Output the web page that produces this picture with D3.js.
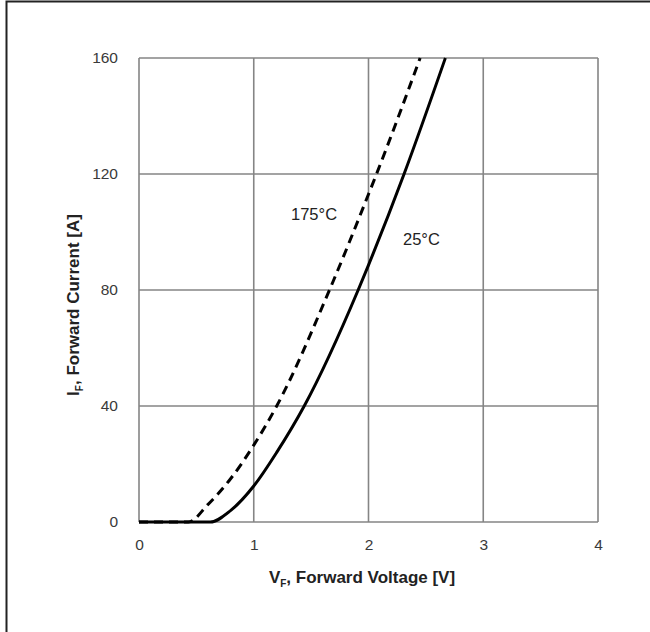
<!DOCTYPE html>
<html>
<head>
<meta charset="utf-8">
<script src="https://cdn.jsdelivr.net/npm/d3@7"></script>
<style>
  html, body { margin: 0; padding: 0; background: #fff; }
  svg { display: block; }
  text { font-family: "Liberation Sans", Arial, sans-serif; }
</style>
</head>
<body>
<script>
// Forward voltage (V) vs forward current (A) for two junction temperatures
const vf25  = [0, 0.62, 0.8, 1.0,  1.2, 1.44, 1.91, 2.0,  2.31, 2.67];
const if25  = [0, 0,    4,   12.4, 24,  40,   80,   88.6, 120,  160];
const vf175 = [0, 0.43, 0.6, 0.8, 1.0,  1.2, 1.66, 2.0, 2.07, 2.45];
const if175 = [0, 0,    6,   15,  26.5, 40,  80,   113, 120,  160];

const xTicks = [0, 1, 2, 3, 4];
const yTicks = [0, 40, 80, 120, 160];
const seriesLabels = ["175°C", "25°C"];

const W = 650, H = 632;
const svg = d3.select("body").append("svg").attr("width", W).attr("height", H);

// outer frame (left and top edges)
svg.append("path")
  .attr("d", "M6.5,640 L6.5,1.5 L660,1.5")
  .attr("fill", "none").attr("stroke", "#222").attr("stroke-width", 2);

const x = d3.scaleLinear().domain([0, 4]).range([139, 598]);
const y = d3.scaleLinear().domain([0, 160]).range([522, 58]);

const grid = svg.append("g").attr("stroke", "#858585").attr("stroke-width", 1.6);
grid.selectAll("line.v").data(xTicks).join("line")
  .attr("x1", d => x(d)).attr("x2", d => x(d))
  .attr("y1", y(0)).attr("y2", y(160));
grid.selectAll("line.h").data(yTicks).join("line")
  .attr("x1", x(0)).attr("x2", x(4))
  .attr("y1", d => y(d)).attr("y2", d => y(d));

// tick labels from d3 axis generators (domain and tick marks hidden)
const xAxis = svg.append("g").attr("transform", `translate(0,${y(0)})`)
  .call(d3.axisBottom(x).tickValues(xTicks).tickSize(0).tickPadding(17).tickFormat(d3.format("d")));
const yAxis = svg.append("g").attr("transform", `translate(${x(0)},0)`)
  .call(d3.axisLeft(y).tickValues(yTicks).tickSize(0).tickPadding(21).tickFormat(d3.format("d")));
[xAxis, yAxis].forEach(a => {
  a.select(".domain").remove();
  a.selectAll("text").attr("font-size", 15.5).attr("fill", "#3a3a3a")
    .attr("font-family", "'Liberation Sans', Arial, sans-serif");
});

const line = d3.line().x(d => x(d[0])).y(d => y(d[1])).curve(d3.curveMonotoneX);
const data25 = vf25.map((v, i) => [v, if25[i]]);
const data175 = vf175.map((v, i) => [v, if175[i]]);

svg.append("path").datum(data25).attr("d", line)
  .attr("fill", "none").attr("stroke", "#000").attr("stroke-width", 3);
svg.append("path").datum(data175).attr("d", line)
  .attr("fill", "none").attr("stroke", "#000").attr("stroke-width", 3)
  .attr("stroke-dasharray", "9,6");

// curve labels
svg.append("text").attr("x", 291).attr("y", 220)
  .attr("font-size", 16.5).attr("fill", "#222").text(seriesLabels[0]);
svg.append("text").attr("x", 403).attr("y", 245)
  .attr("font-size", 16.5).attr("fill", "#222").text(seriesLabels[1]);

// axis titles
const xt = svg.append("text").attr("x", 362).attr("y", 583)
  .attr("text-anchor", "middle").attr("font-size", 17).attr("font-weight", "bold").attr("fill", "#222");
xt.append("tspan").text("V");
xt.append("tspan").attr("font-size", 10).attr("dy", 4).text("F");
xt.append("tspan").attr("dy", -4).text(", Forward Voltage [V]");

const yt = svg.append("text")
  .attr("transform", `translate(79,305) rotate(-90)`)
  .attr("text-anchor", "middle").attr("font-size", 17).attr("font-weight", "bold").attr("fill", "#222");
yt.append("tspan").text("I");
yt.append("tspan").attr("font-size", 10).attr("dy", 4).text("F");
yt.append("tspan").attr("dy", -4).text(", Forward Current [A]");
</script>
</body>
</html>
